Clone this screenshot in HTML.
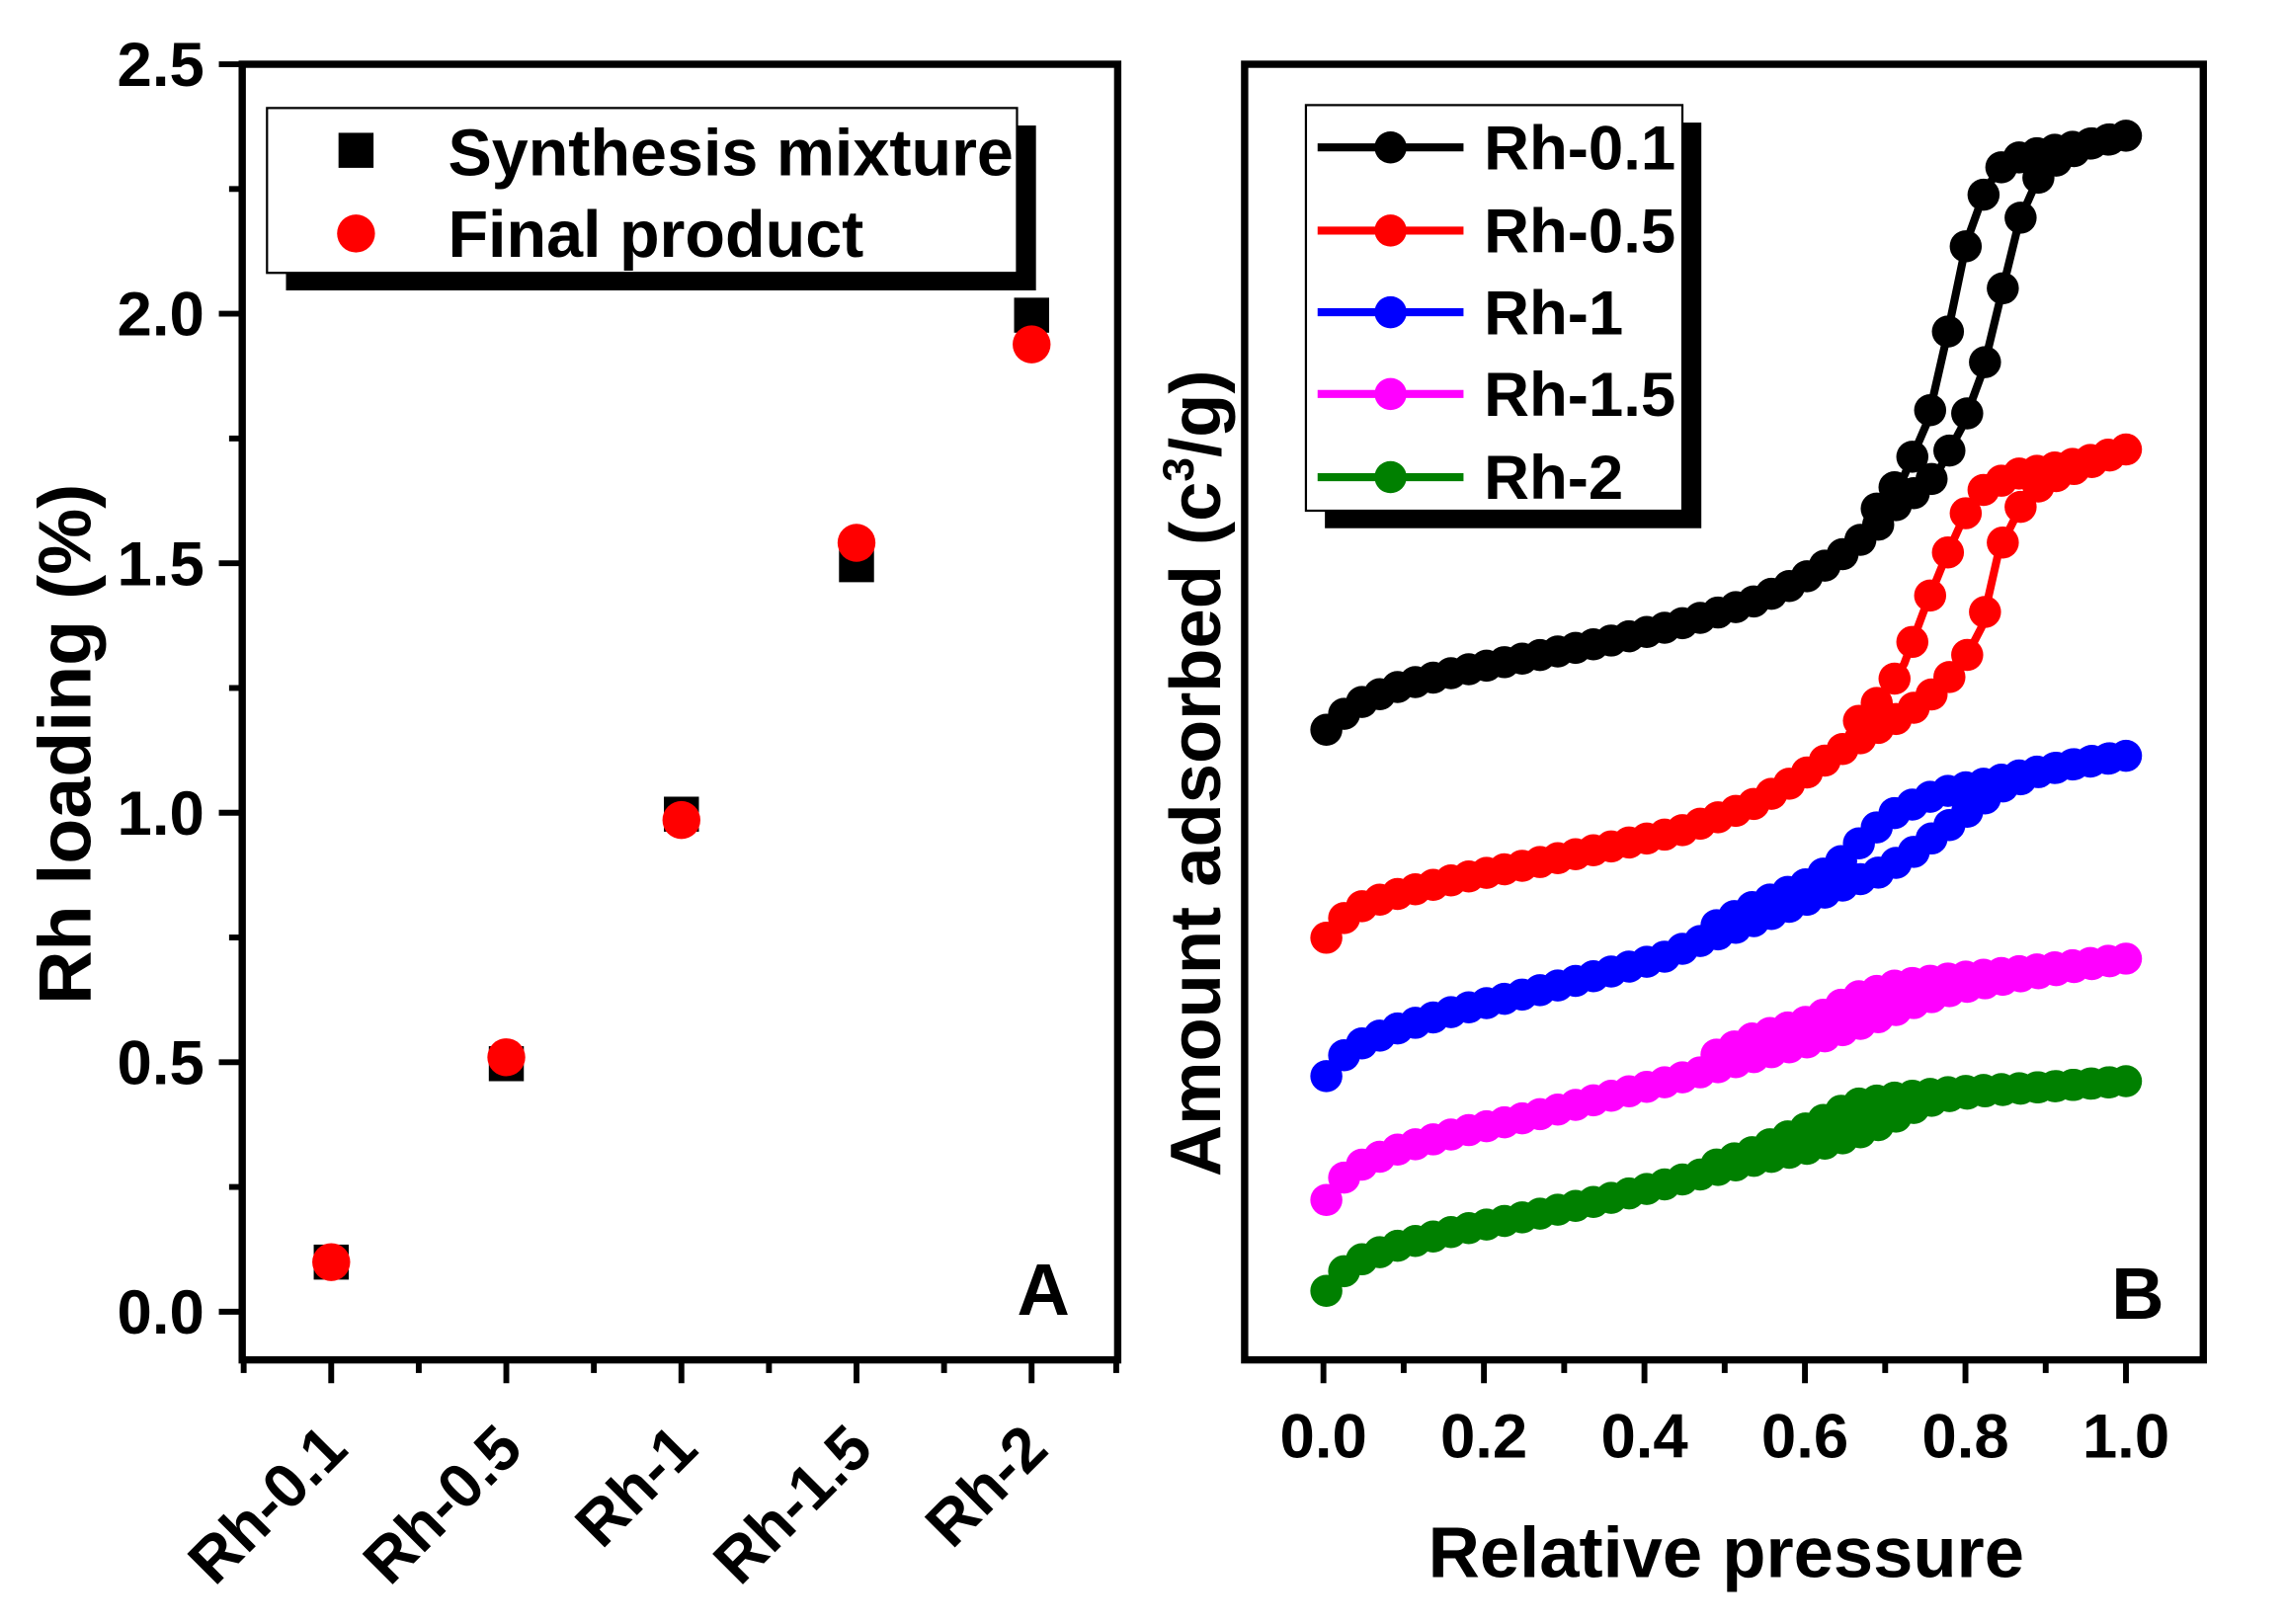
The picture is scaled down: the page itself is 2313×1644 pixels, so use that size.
<!DOCTYPE html>
<html><head><meta charset="utf-8"><style>
html,body{margin:0;padding:0;background:#fff;}
svg{display:block;}
text{font-family:"Liberation Sans",Arial,sans-serif;font-weight:bold;fill:#000;}
</style></head><body>
<svg id="s" width="2313" height="1644" viewBox="0 0 1566 1113" xmlns="http://www.w3.org/2000/svg">
<rect width="1566" height="1113" fill="#fff"/>
<!-- Panel A -->
<g id="A">
<rect x="166" y="44" width="600" height="888" fill="none" stroke="#000" stroke-width="5"/>
<g stroke="#000" stroke-width="4">
<line x1="150" y1="44" x2="166" y2="44"/><line x1="150" y1="215" x2="166" y2="215"/><line x1="150" y1="386" x2="166" y2="386"/><line x1="150" y1="557" x2="166" y2="557"/><line x1="150" y1="728" x2="166" y2="728"/><line x1="150" y1="899" x2="166" y2="899"/>
<line x1="157" y1="129.5" x2="166" y2="129.5"/><line x1="157" y1="300.5" x2="166" y2="300.5"/><line x1="157" y1="471.5" x2="166" y2="471.5"/><line x1="157" y1="642.5" x2="166" y2="642.5"/><line x1="157" y1="813.5" x2="166" y2="813.5"/>
<line x1="227" y1="932" x2="227" y2="948"/><line x1="347" y1="932" x2="347" y2="948"/><line x1="467" y1="932" x2="467" y2="948"/><line x1="587" y1="932" x2="587" y2="948"/><line x1="707" y1="932" x2="707" y2="948"/>
<line x1="167" y1="932" x2="167" y2="941"/><line x1="287" y1="932" x2="287" y2="941"/><line x1="407" y1="932" x2="407" y2="941"/><line x1="527" y1="932" x2="527" y2="941"/><line x1="647" y1="932" x2="647" y2="941"/><line x1="765" y1="932" x2="765" y2="941"/>
</g>
<g font-size="43" text-anchor="end">
<text x="140" y="59">2.5</text><text x="140" y="230">2.0</text><text x="140" y="401">1.5</text><text x="140" y="572">1.0</text><text x="140" y="743">0.5</text><text x="140" y="914">0.0</text>
</g>
<text transform="translate(62,510) rotate(-90)" font-size="51" text-anchor="middle">Rh loading (%)</text>
<g font-size="43" text-anchor="end">
<text transform="translate(240,995) rotate(-45)">Rh-0.1</text>
<text transform="translate(360,995) rotate(-45)">Rh-0.5</text>
<text transform="translate(480,995) rotate(-45)">Rh-1</text>
<text transform="translate(600,995) rotate(-45)">Rh-1.5</text>
<text transform="translate(720,995) rotate(-45)">Rh-2</text>
</g>
<rect x="196" y="86" width="514" height="113" fill="#000"/>
<rect x="183" y="74" width="514" height="113" fill="#fff" stroke="#000" stroke-width="1.5"/>
<rect x="232" y="91" width="24" height="24" fill="#000"/>
<circle cx="244" cy="160" r="13" fill="#f00"/>
<text x="307" y="120" font-size="45">Synthesis mixture</text>
<text x="307" y="176" font-size="45">Final product</text>
<g fill="#000">
<rect x="215" y="853" width="24" height="24"/><rect x="335" y="717" width="24" height="24"/><rect x="455" y="546" width="24" height="24"/><rect x="575" y="375" width="24" height="24"/><rect x="695" y="204" width="24" height="24"/>
</g>
<g fill="#f00">
<circle cx="227" cy="865" r="13"/><circle cx="347" cy="724.6" r="13"/><circle cx="467" cy="562" r="13"/><circle cx="587" cy="372" r="13"/><circle cx="707" cy="236" r="13"/>
</g>
<text x="697" y="901" font-size="50">A</text>
</g>
<!-- Panel B -->
<g id="B">
<rect x="853" y="44" width="657" height="888" fill="none" stroke="#000" stroke-width="5"/>
<g id="bt" stroke="#000" stroke-width="4"></g>
<g font-size="43" text-anchor="middle">
<text x="907" y="999">0.0</text><text x="1017" y="999">0.2</text><text x="1127" y="999">0.4</text><text x="1237" y="999">0.6</text><text x="1347" y="999">0.8</text><text x="1457" y="999">1.0</text>
</g>
<text x="1183" y="1081" font-size="49" text-anchor="middle">Relative pressure</text>
<text transform="translate(836,530) rotate(-90)" font-size="49" text-anchor="middle">Amount adsorbed (c<tspan font-size="30" dy="-18">3</tspan><tspan dy="18">/g)</tspan></text>
<g id="curves"></g>
<rect x="908" y="84" width="258" height="278" fill="#000"/>
<rect x="895" y="72" width="258" height="278" fill="#fff" stroke="#000" stroke-width="1.5"/>
<g id="leg"></g>
<text x="1447" y="904" font-size="50">B</text>
</g>
</svg>
<script>
var NS="http://www.w3.org/2000/svg";
function el(t,a,p){var e=document.createElementNS(NS,t);for(var k in a)e.setAttribute(k,a[k]);p.appendChild(e);return e;}
var bt=document.getElementById('bt');
for(var i=-1;i<=11;i++){var x=907+55*i;if(x<853||x>1510)continue;el('line',{x1:x,y1:932,x2:x,y2:(i%2==0?948:941)},bt);}
var series=[
{c:'#000',a:[[907,502],[920,490],[935,480],[960,470],[1000,460],[1050,450],[1100,440],[1150,428],[1200,413],[1230,400],[1260,382],[1285,362],[1305,340],[1318,336],[1330,320],[1345,292],[1359,254],[1372,200],[1384,151],[1400,115],[1430,99],[1457,93]],
 d:[[1457,93],[1430,99],[1400,104],[1375,110],[1361,129],[1348,165],[1334,232],[1321,289],[1305,326],[1285,350]]},
{c:'#f00',a:[[907,645],[920,630],[935,620],[960,612],[1000,602],[1050,592],[1100,581],[1150,570],[1200,552],[1230,535],[1260,515],[1285,500],[1305,490],[1325,475],[1345,455],[1358,430],[1370,377],[1385,347],[1400,330],[1430,318],[1457,308]],
 d:[[1457,308],[1430,316],[1400,322],[1381,325],[1360,335],[1347,352],[1333,383],[1318,420],[1305,455],[1290,478],[1270,498]]},
{c:'#00f',a:[[907,740],[920,724],[935,714],[960,704],[1000,692],[1050,680],[1100,667],[1140,656],[1165,645],[1200,632],[1230,620],[1260,608],[1290,597],[1310,585],[1330,570],[1350,555],[1370,540],[1400,528],[1430,522],[1457,518]],
 d:[[1457,518],[1420,524],[1390,530],[1360,537],[1330,543],[1300,556],[1280,572],[1260,592],[1240,605],[1200,622],[1165,640]]},
{c:'#f0f',a:[[907,825],[920,808],[935,797],[960,787],[1000,776],[1050,765],[1100,752],[1140,742],[1165,735],[1200,725],[1240,714],[1280,700],[1310,688],[1340,678],[1380,670],[1420,663],[1457,657]],
 d:[[1457,657],[1400,664],[1340,670],[1300,675],[1270,684],[1245,698],[1200,712],[1165,728]]},
{c:'#008000',a:[[907,887],[920,872],[935,862],[960,853],[1000,843],[1050,833],[1100,822],[1140,812],[1165,805],[1200,796],[1240,787],[1270,778],[1290,770],[1310,760],[1330,752],[1360,748],[1400,745],[1457,741]],
 d:[[1457,741],[1400,745],[1340,748],[1300,752],[1270,757],[1245,770],[1200,790],[1165,802]]}
];
function yAt(pts,x){for(var i=0;i<pts.length-1;i++){var a=pts[i],b=pts[i+1];var lo=Math.min(a[0],b[0]),hi=Math.max(a[0],b[0]);if(x>=lo&&x<=hi){var t=(b[0]==a[0])?0:(x-a[0])/(b[0]-a[0]);return a[1]+t*(b[1]-a[1]);}}return null;}
var cg=document.getElementById('curves');
series.slice().reverse().forEach(function(s){
 [s.a,s.d].forEach(function(p){el('polyline',{points:p.map(function(q){return q.join(',')}).join(' '),fill:'none',stroke:s.c,'stroke-width':5.5,'stroke-linejoin':'round'},cg);});
 for(var x=909;x<=1457.1;x+=12.2){var y=yAt(s.a,x);if(y!=null)el('circle',{cx:x,cy:y,r:11,fill:s.c},cg);}
 var dmin=s.d[s.d.length-1][0];
 for(var x=1457;x>=dmin;x-=12.2){var y=yAt(s.d,x);if(y!=null)el('circle',{cx:x,cy:y,r:11,fill:s.c},cg);}
});
var lg=document.getElementById('leg');
var names=['Rh-0.1','Rh-0.5','Rh-1','Rh-1.5','Rh-2'],ys=[101,158,214,270,327];
for(var i=0;i<5;i++){el('line',{x1:903,y1:ys[i],x2:1003,y2:ys[i],stroke:series[i].c,'stroke-width':5.5},lg);el('circle',{cx:953,cy:ys[i],r:11,fill:series[i].c},lg);var t=el('text',{x:1017,y:ys[i]+15,'font-size':43},lg);t.textContent=names[i];}
</script>
</body></html>
